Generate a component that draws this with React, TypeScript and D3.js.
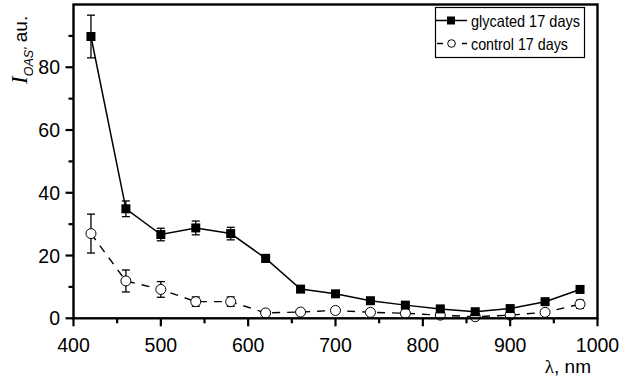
import React from "react";
import * as d3 from "d3";

const wavelengths = [420, 460, 500, 540, 580, 620, 660, 700, 740, 780, 820, 860, 900, 940, 980];
const glycated = [89.8, 34.9, 26.7, 28.8, 27.0, 19.1, 9.3, 7.8, 5.6, 4.2, 3.0, 2.1, 3.1, 5.3, 9.2];
const glycatedErr = [6.8, 2.5, 2.0, 2.2, 2.0, 1.2, 0.9, 0.8, 0.8, 0.8, 0.8, 0.8, 0.8, 0.8, 0.9];
const control = [27.0, 11.9, 9.2, 5.3, 5.3, 1.7, 2.0, 2.5, 1.9, 1.6, 1.0, 0.5, 1.0, 1.9, 4.5];
const controlErr = [6.2, 3.5, 2.5, 1.5, 1.5, 0.8, 0.8, 0.8, 0.8, 0.8, 0.8, 0.8, 0.8, 0.8, 1.3];
const xTicks = [400, 500, 600, 700, 800, 900, 1000];
const xMinor = [450, 550, 650, 750, 850, 950];
const yTicks = [0, 20, 40, 60, 80];
const yMinor = [10, 30, 50, 70, 90];
const seriesNames = ["glycated 17 days", "control 17 days"];

const W = 621, H = 379;
const L = 73.5, R = 597.5, T = 4.5, B = 318.3;
const FONT = "'Liberation Sans', Arial, sans-serif";

export default function App() {
  const x = d3.scaleLinear().domain([400, 1000]).range([L, R]);
  const y = d3.scaleLinear().domain([0, 100]).range([B, T]);
  const line = d3.line<[number, number]>().x(d => x(d[0])).y(d => y(d[1]));
  const gPts: [number, number][] = wavelengths.map((w, i) => [w, glycated[i]]);
  const cPts: [number, number][] = wavelengths.map((w, i) => [w, control[i]]);

  const errBars = (vals: number[], errs: number[], key: string) =>
    wavelengths.map((w, i) => {
      const cx = x(w);
      const y1 = y(vals[i] + errs[i]);
      const y2 = y(vals[i] - errs[i]);
      return (
        <g key={key + i} stroke="#000" strokeWidth={1.3}>
          <line x1={cx} x2={cx} y1={y1} y2={y2} />
          <line x1={cx - 4} x2={cx + 4} y1={y1} y2={y1} />
          <line x1={cx - 4} x2={cx + 4} y1={y2} y2={y2} />
        </g>
      );
    });

  return (
    <svg width={W} height={H} style={{ position: "absolute", left: 0, top: 0, background: "#fff" }}>
      <rect x={0} y={0} width={W} height={H} fill="#fff" />
      {/* series: control */}
      <path d={line(cPts) || ""} fill="none" stroke="#000" strokeWidth={1.4} strokeDasharray="8,7" />
      {errBars(control, controlErr, "c")}
      {cPts.map((p, i) => (
        <circle key={"cc" + i} cx={x(p[0])} cy={y(p[1])} r={5} fill="#fff" stroke="#000" strokeWidth={1} />
      ))}
      {/* series: glycated */}
      <path d={line(gPts) || ""} fill="none" stroke="#000" strokeWidth={1.5} />
      {errBars(glycated, glycatedErr, "g")}
      {gPts.map((p, i) => (
        <rect key={"gs" + i} x={x(p[0]) - 4.5} y={y(p[1]) - 4.5} width={9} height={9} fill="#000" />
      ))}

      {/* frame */}
      <rect x={L} y={T} width={R - L} height={B - T} fill="none" stroke="#000" strokeWidth={2.4} />

      {/* x ticks */}
      {xTicks.map(t => (
        <g key={"xt" + t}>
          <line x1={x(t)} x2={x(t)} y1={B} y2={B + 8} stroke="#000" strokeWidth={2.2} />
          <text x={x(t)} y={352} textAnchor="middle" fontFamily={FONT} fontSize={19.5}>{t}</text>
        </g>
      ))}
      {xMinor.map(t => (
        <line key={"xm" + t} x1={x(t)} x2={x(t)} y1={B} y2={B + 5} stroke="#000" strokeWidth={2.2} />
      ))}
      {/* y ticks */}
      {yTicks.map(t => (
        <g key={"yt" + t}>
          <line x1={L} x2={L - 8} y1={y(t)} y2={y(t)} stroke="#000" strokeWidth={2.2} />
          <text x={60} y={y(t) + 7} textAnchor="end" fontFamily={FONT} fontSize={19.5}>{t}</text>
        </g>
      ))}
      {yMinor.map(t => (
        <line key={"ym" + t} x1={L} x2={L - 5} y1={y(t)} y2={y(t)} stroke="#000" strokeWidth={2.2} />
      ))}

      {/* axis titles */}
      <text x={591} y={373} textAnchor="end" fontFamily={FONT} fontSize={19}>
        <tspan fontFamily="'Liberation Serif', serif">λ</tspan>, nm
      </text>
      <text transform="translate(27,84) rotate(-90)" fontFamily={FONT} fontSize={19}>
        <tspan fontFamily="'Liberation Serif', serif" fontStyle="italic" fontSize={23}>I</tspan>
        <tspan fontStyle="italic" fontSize={12.5} dy={6}>OAS'</tspan>
        <tspan dy={-6}> au.</tspan>
      </text>

      {/* legend */}
      <rect x={435.5} y={7.5} width={149} height={50} fill="#fff" stroke="#000" strokeWidth={1.2} />
      <line x1={436} x2={467} y1={20.5} y2={20.5} stroke="#000" strokeWidth={1.5} />
      <rect x={447} y={16.5} width={8} height={8} fill="#000" />
      <text x={471} y={27} fontFamily={FONT} fontSize={16.5} textLength={109} lengthAdjust="spacingAndGlyphs">{seriesNames[0]}</text>
      <line x1={436} x2={467} y1={43.5} y2={43.5} stroke="#000" strokeWidth={1.3} strokeDasharray="6,6.5" strokeDashoffset={-1} />
      <circle cx={451.5} cy={43.5} r={3.8} fill="#fff" stroke="#000" strokeWidth={1} />
      <text x={471} y={50} fontFamily={FONT} fontSize={16.5} textLength={97} lengthAdjust="spacingAndGlyphs">{seriesNames[1]}</text>
    </svg>
  );
}
